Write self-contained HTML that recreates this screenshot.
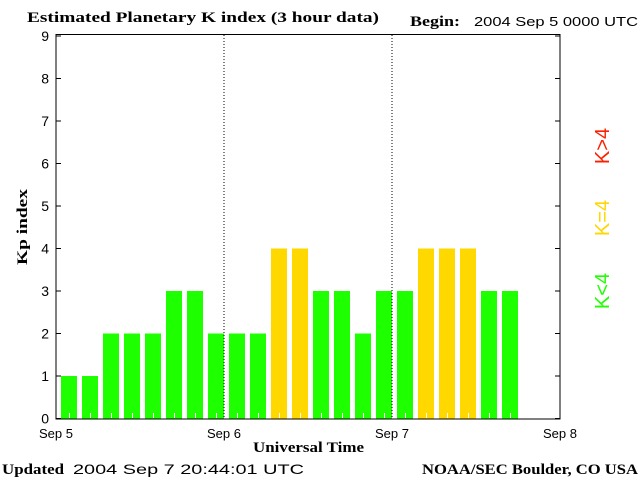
<!DOCTYPE html>
<html><head><meta charset="utf-8"><style>
body{margin:0;background:#fff;width:640px;height:480px;overflow:hidden}
svg text{font-family:"Liberation Sans",sans-serif}
.s{font-family:"Liberation Serif",serif;font-weight:bold}
</style></head><body>
<svg id="c" width="640" height="480">
<text class="s" x="27" y="22" font-size="15" textLength="352" lengthAdjust="spacingAndGlyphs">Estimated Planetary K index (3 hour data)</text>
<text class="s" x="410" y="26" font-size="15" textLength="50" lengthAdjust="spacingAndGlyphs">Begin:</text>
<text x="474" y="26" font-size="13" textLength="164" lengthAdjust="spacingAndGlyphs">2004 Sep 5 0000 UTC</text>
<text class="s" transform="translate(27,227) rotate(-90)" text-anchor="middle" font-size="15" textLength="76" lengthAdjust="spacingAndGlyphs">Kp index</text>
<text class="s" x="253" y="452" font-size="15" textLength="111" lengthAdjust="spacingAndGlyphs">Universal Time</text>
<text class="s" x="2" y="474" font-size="15" textLength="62" lengthAdjust="spacingAndGlyphs">Updated</text>
<text x="73" y="474" font-size="14" textLength="231" lengthAdjust="spacingAndGlyphs">2004 Sep  7 20:44:01 UTC</text>
<text class="s" x="422" y="474" font-size="15" textLength="216" lengthAdjust="spacingAndGlyphs">NOAA/SEC Boulder, CO USA</text>
<text transform="translate(609,291) rotate(-90)" text-anchor="middle" font-size="20" fill="#1eff00">K&lt;4</text>
<text transform="translate(609,218) rotate(-90)" text-anchor="middle" font-size="20" fill="#ffd700">K=4</text>
<text transform="translate(609,146) rotate(-90)" text-anchor="middle" font-size="20" fill="#ff2000">K&gt;4</text>
<g id="bars"></g>
<g id="axes"></g>
</svg>
<script>
const values=[1,1,2,2,2,3,3,2,2,2,4,4,3,3,2,3,3,4,4,4,3,3];
const dayLabels=["Sep 5","Sep 6","Sep 7","Sep 8"];
const yTicks=[0,1,2,3,4,5,6,7,8,9];
const X0=56,X1=560,Y0=418.5,YT=36;
const slots=24;
const xs=i=>X0+(X1-X0)*i/slots;
const ys=v=>Y0-(Y0-YT)*v/9;
const NS="http://www.w3.org/2000/svg";
function mk(t,a,p){const e=document.createElementNS(NS,t);for(const k in a)e.setAttribute(k,a[k]);p.appendChild(e);return e;}
const bars=document.getElementById('bars'),axes=document.getElementById('axes');
values.forEach((v,i)=>{
 const c=v<4?"#1eff00":v==4?"#ffd800":"#ff2000";
 const r=mk('rect',{x:xs(i)+5,y:ys(v),width:16,height:Y0-ys(v),fill:c},bars);
 
 
 mk('line',{x1:xs(i)+13.5,x2:xs(i)+13.5,y1:413,y2:418,stroke:"#fff"},bars);
});
mk('rect',{x:X0,y:34.5,width:X1-X0,height:419-34.5,fill:"none",stroke:"#000"},axes);
for(let d=1;d<3;d++){const x=X0+(X1-X0)*d/3;mk('line',{x1:x,x2:x,y1:35,y2:419,stroke:"#000","stroke-dasharray":"1,2"},axes);}
yTicks.forEach(t=>{
 const y=ys(t);
 mk('line',{x1:X0,x2:X0+5,y1:y,y2:y,stroke:"#000"},axes);
 mk('line',{x1:X1-5,x2:X1,y1:y,y2:y,stroke:"#000"},axes);
 const tx=mk('text',{x:49,y:y+5,"text-anchor":"end","font-size":"14"},axes);tx.textContent=t;
 
 
});
dayLabels.forEach((l,i)=>{
 const x=X0+(X1-X0)*i/3;
 const tx=mk('text',{x:x,y:438,"text-anchor":"middle","font-size":"13"},axes);tx.textContent=l;
 
 
});
</script>
</body></html>
